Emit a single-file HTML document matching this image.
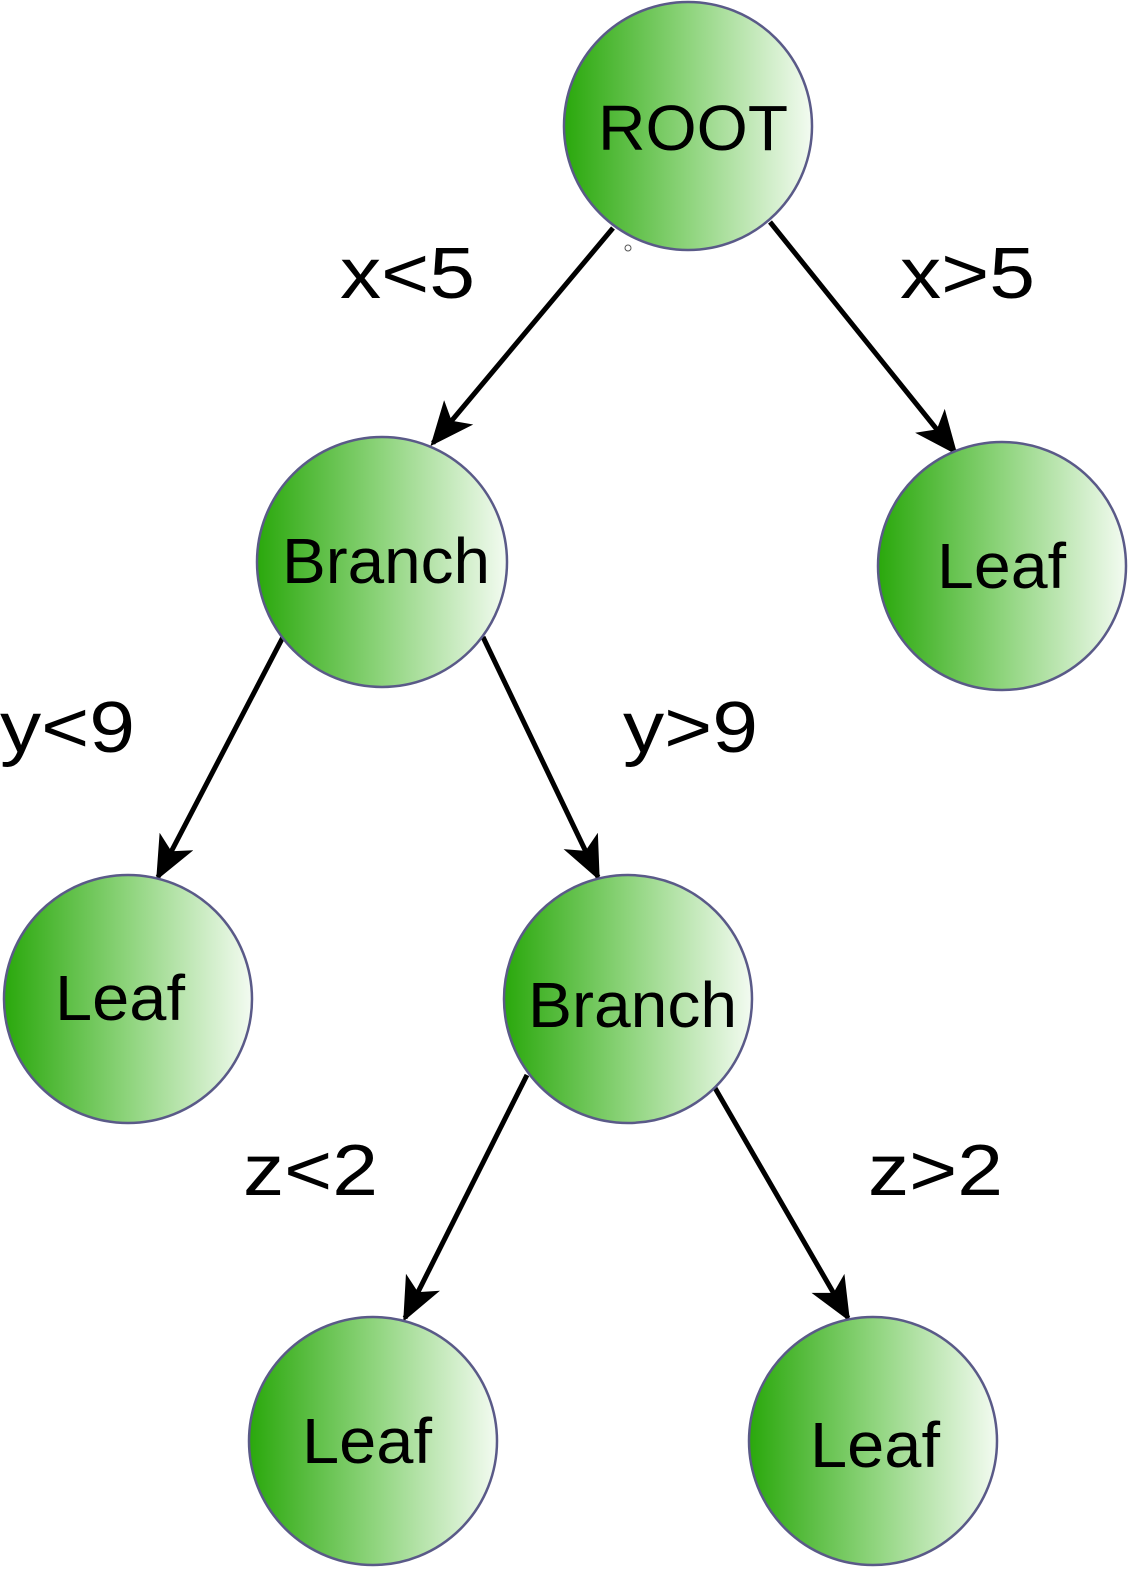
<!DOCTYPE html>
<html><head><meta charset="utf-8"><style>
html,body{margin:0;padding:0;background:#fff;}
svg{display:block;font-family:"Liberation Sans",sans-serif;}
</style></head><body>
<svg width="1130" height="1570" viewBox="0 0 1130 1570">
<defs>
<linearGradient id="g" x1="0" y1="0" x2="1" y2="0">
<stop offset="0" stop-color="#2aa80c"/>
<stop offset="0.5" stop-color="#8ed47c"/>
<stop offset="1" stop-color="#f3fbf1"/>
</linearGradient>
<marker id="ah" markerWidth="44" markerHeight="44" refX="40" refY="22" orient="auto" markerUnits="userSpaceOnUse">
<path d="M0,3 L44,22 L0,41 L11,22 Z" fill="#000"/>
</marker>
</defs>
<g stroke="#000" stroke-width="5" fill="none">
<line x1="613" y1="228" x2="433" y2="443" marker-end="url(#ah)"/>
<line x1="770" y1="222" x2="955" y2="452" marker-end="url(#ah)"/>
<line x1="283" y1="637" x2="158" y2="877" marker-end="url(#ah)"/>
<line x1="483" y1="637" x2="598" y2="877" marker-end="url(#ah)"/>
<line x1="527" y1="1075" x2="405" y2="1318" marker-end="url(#ah)"/>
<line x1="715" y1="1088" x2="848" y2="1318" marker-end="url(#ah)"/>
</g>
<circle cx="628" cy="248" r="3" fill="#fff" stroke="#555" stroke-width="1"/>
<g fill="url(#g)" stroke="#5a5a88" stroke-width="2.5">
<circle cx="688" cy="126" r="124"/>
<circle cx="382" cy="562" r="125"/>
<circle cx="1002" cy="566" r="124"/>
<circle cx="128" cy="999" r="124"/>
<circle cx="628" cy="999" r="124"/>
<circle cx="373" cy="1441" r="124"/>
<circle cx="873" cy="1441" r="124"/>
</g>
<g font-size="64" fill="#000">
<text x="598" y="150" textLength="190" lengthAdjust="spacingAndGlyphs">ROOT</text>
<text x="282" y="583" textLength="208" lengthAdjust="spacingAndGlyphs">Branch</text>
<text x="937" y="588" textLength="129" lengthAdjust="spacingAndGlyphs">Leaf</text>
<text x="55" y="1020" textLength="130" lengthAdjust="spacingAndGlyphs">Leaf</text>
<text x="528" y="1027" textLength="209" lengthAdjust="spacingAndGlyphs">Branch</text>
<text x="302" y="1463" textLength="130" lengthAdjust="spacingAndGlyphs">Leaf</text>
<text x="810" y="1467" textLength="130" lengthAdjust="spacingAndGlyphs">Leaf</text>
</g>
<g font-size="72" fill="#000">
<text x="340" y="298" textLength="135" lengthAdjust="spacingAndGlyphs">x&lt;5</text>
<text x="900" y="298" textLength="135" lengthAdjust="spacingAndGlyphs">x&gt;5</text>
<text x="0" y="752" textLength="135" lengthAdjust="spacingAndGlyphs">y&lt;9</text>
<text x="623" y="752" textLength="135" lengthAdjust="spacingAndGlyphs">y&gt;9</text>
<text x="243" y="1195" textLength="135" lengthAdjust="spacingAndGlyphs">z&lt;2</text>
<text x="868" y="1195" textLength="135" lengthAdjust="spacingAndGlyphs">z&gt;2</text>
</g>
</svg>
</body></html>
